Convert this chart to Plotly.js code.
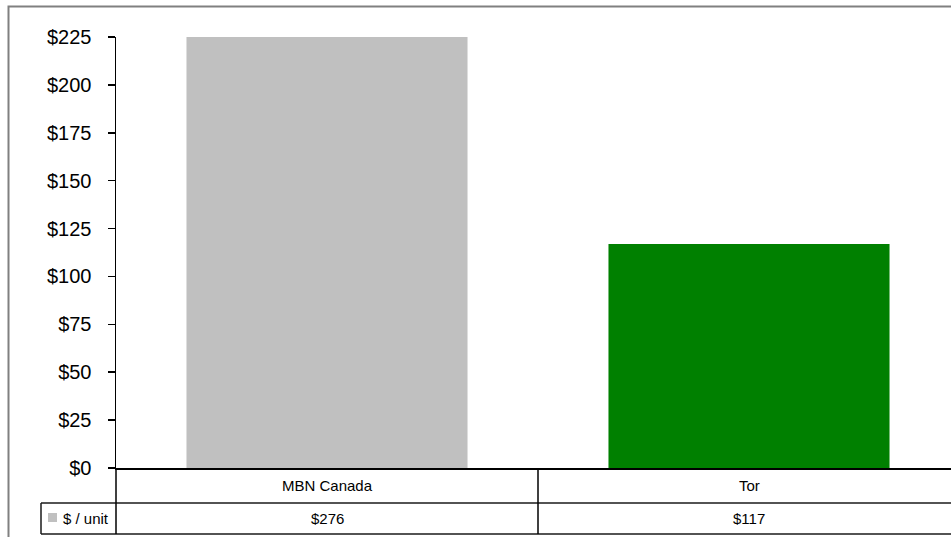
<!DOCTYPE html>
<html>
<head>
<meta charset="utf-8">
<script src="https://cdn.plot.ly/plotly-3.0.1.min.js"></script>
<style>
html,body{margin:0;padding:0;overflow:hidden;background:#fff;}
#chart{width:960px;height:537px;}
</style>
</head>
<body>
<div id="chart"></div>
<script>
// Data
var categories = ["MBN Canada", "Tor"];
var values = [276, 117];
var barColors = ["#C0C0C0", "#008000"];
var seriesName = "$ / unit";
var yTickValues = [0, 25, 50, 75, 100, 125, 150, 175, 200, 225];
var yTickLabels = ["$0", "$25", "$50", "$75", "$100", "$125", "$150", "$175", "$200", "$225"];

// Geometry helpers (px -> paper), plot area: x 116..960, y 37..468
var L = 116, R = 960, T = 37, B = 468;
function px(x){ return (x - L) / (R - L); }
function py(y){ return (B - y) / (B - T); }

var lineColor = "#1a1a1a";
var shapes = [
  // outer chart border
  {type:"rect", xref:"paper", yref:"paper", x0:px(8.5), x1:px(975), y0:py(560), y1:py(6.5),
   line:{color:"#808080", width:2}, fillcolor:"rgba(0,0,0,0)", layer:"below"},
  // table horizontal lines
  {type:"line", xref:"paper", yref:"paper", x0:px(41), x1:px(975), y0:py(503), y1:py(503), line:{color:lineColor, width:1.5}},
  {type:"line", xref:"paper", yref:"paper", x0:px(41), x1:px(975), y0:py(534), y1:py(534), line:{color:lineColor, width:1.5}},
  // table vertical lines
  {type:"line", xref:"paper", yref:"paper", x0:px(116), x1:px(116), y0:py(468), y1:py(534), line:{color:"#000", width:1.5}},
  {type:"line", xref:"x", yref:"paper", x0:0.5, x1:0.5, y0:py(468), y1:py(534), line:{color:"#000", width:1.5}},
  {type:"line", xref:"paper", yref:"paper", x0:px(41), x1:px(41), y0:py(503), y1:py(534), line:{color:lineColor, width:1.5}},
  // legend key
  {type:"rect", xref:"paper", yref:"paper", x0:px(48), x1:px(57), y0:py(522), y1:py(513),
   line:{width:0}, fillcolor:barColors[0]}
];

var annotations = [];
var tfont = {family:"Liberation Sans, Arial, sans-serif", size:15, color:"#000"};
categories.forEach(function(c, i){
  annotations.push({xref:"x", yref:"paper", x:i, y:py(485.5), text:c, showarrow:false,
    xanchor:"center", yanchor:"middle", font:tfont});
  annotations.push({xref:"x", yref:"paper", x:i, y:py(518.5), text:"$" + values[i], showarrow:false,
    xanchor:"center", yanchor:"middle", font:tfont});
});
annotations.push({xref:"paper", yref:"paper", x:px(61), y:py(518.5), text:seriesName, showarrow:false,
  xanchor:"left", yanchor:"middle", font:tfont});

var trace = {
  type:"bar",
  x:categories.map(function(c, i){ return i; }),
  y:values,
  marker:{color:barColors, line:{width:0}},
  hoverinfo:"none"
};

var layout = {
  width:960, height:537,
  margin:{l:L, r:960 - R, t:T, b:537 - B, pad:0},
  paper_bgcolor:"#fff", plot_bgcolor:"#fff",
  showlegend:false,
  bargap:0.334,
  xaxis:{range:[-0.5, 1.5], showticklabels:false, showgrid:false, zeroline:false,
    showline:true, linecolor:"#000", linewidth:1.5, ticks:"", fixedrange:true},
  yaxis:{range:[0, 225], tickmode:"array", tickvals:yTickValues, ticktext:yTickLabels,
    showgrid:false, zeroline:false,
    showline:true, linecolor:"#000", linewidth:1.5, ticks:"outside", ticklen:7, tickwidth:1.5,
    tickcolor:"#000", ticklabelstandoff:12,
    tickfont:{family:"Liberation Sans, Arial, sans-serif", size:20, color:"#000"}, fixedrange:true},
  shapes:shapes,
  annotations:annotations
};

Plotly.newPlot("chart", [trace], layout, {displayModeBar:false, staticPlot:true});
</script>
</body>
</html>
